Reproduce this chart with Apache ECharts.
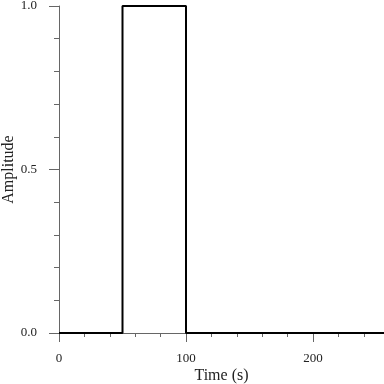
<!DOCTYPE html>
<html><head><meta charset="utf-8">
<script src="https://cdn.jsdelivr.net/npm/echarts@6/dist/echarts.min.js"></script>
<style>html,body{margin:0;padding:0;background:#fff}#c{width:384px;height:384px}</style>
</head><body><div id="c"></div>
<script>
const timeValues = [0, 50, 50, 100, 100, 256];
const amplitudeValues = [0, 0, 1, 1, 0, 0];
const xTicks = [0, 100, 200];
const yTicks = ['0.0', '0.5', '1.0'];
const xTitle = 'Time (s)';
const yTitle = 'Amplitude';

const font = 'Liberation Serif';
const axisGray = '#666';
const chart = echarts.init(document.getElementById('c'), null, {renderer: 'canvas'});
chart.setOption({
  animation: false,
  grid: {left: 59, right: -56, top: 6, bottom: 51, containLabel: false, outerBoundsMode: 'none'},
  xAxis: {
    type: 'value', min: 0, max: 300, interval: 100, offset: 7,
    axisLine: {show: true, lineStyle: {color: axisGray, width: 1}},
    axisTick: {show: true, length: 9, lineStyle: {color: axisGray}},
    minorTick: {show: true, splitNumber: 5, length: 4, lineStyle: {color: axisGray}},
    splitLine: {show: false},
    axisLabel: {fontFamily: font, fontSize: 13, color: '#222', margin: 12,
      formatter: v => xTicks.includes(v) ? String(v) : ''},
    name: xTitle, nameLocation: 'middle', nameGap: 28, nameMoveOverlap: false,
    nameTextStyle: {fontFamily: font, fontSize: 16, color: '#222', padding: [0, 56, 0, 0]}
  },
  yAxis: {
    type: 'value', min: 0, max: 1, interval: 0.5, offset: 8,
    axisLine: {show: true, lineStyle: {color: axisGray, width: 1}},
    axisTick: {show: true, length: 10, lineStyle: {color: axisGray}},
    minorTick: {show: true, splitNumber: 5, length: 5, lineStyle: {color: axisGray}},
    splitLine: {show: false},
    axisLabel: {fontFamily: font, fontSize: 13, color: '#222', margin: 14,
      formatter: v => yTicks[Math.round(v * 2)]},
    name: yTitle, nameLocation: 'middle', nameGap: 34, nameMoveOverlap: false,
    nameTextStyle: {fontFamily: font, fontSize: 16, color: '#222'}
  },
  series: [{
    type: 'line', showSymbol: false, symbol: 'none',
    data: timeValues.map((t, i) => [t, amplitudeValues[i]]),
    lineStyle: {color: '#000', width: 2},
    clip: true
  }]
});
</script></body></html>
